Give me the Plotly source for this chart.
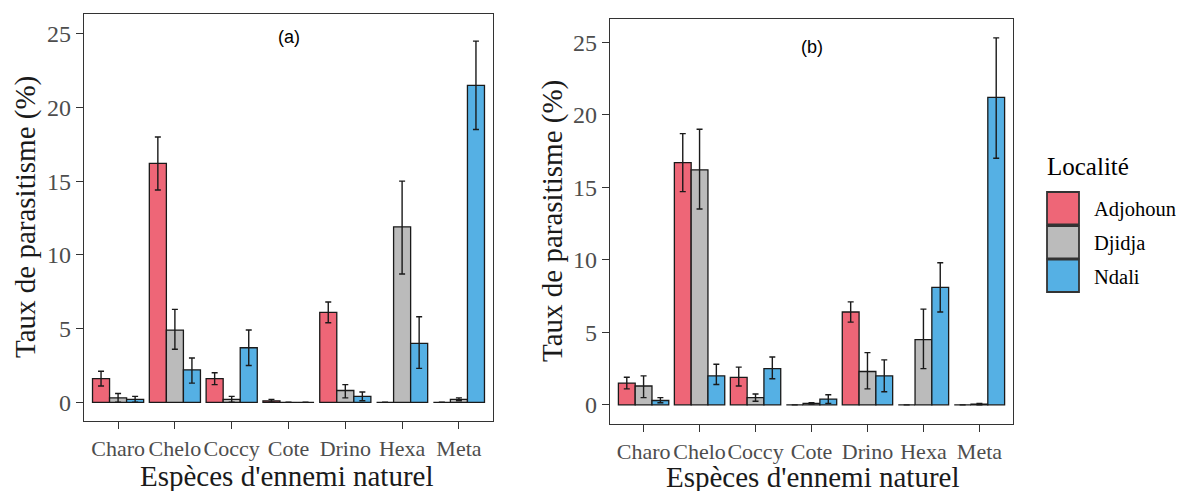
import plotly.graph_objects as go

# The page body has an 8px margin, so the figure is drawn 8px in from the top-left.
OFF = 8
W, H = 1184 - OFF, 491 - OFF

species = ["Charo", "Chelo", "Coccy", "Cote", "Drino", "Hexa", "Meta"]
localites = ["Adjohoun", "Djidja", "Ndali"]
colors = ["#EE6677", "#BBBBBB", "#55B0E4"]

# Panel (a): mean, upper and lower error bounds
a_adjohoun = [1.6, 16.2, 1.6, 0.1, 6.1, 0.0, 0.0]
a_adjohoun_hi = [2.1, 18.0, 2.0, 0.2, 6.8, 0.0, 0.0]
a_adjohoun_lo = [1.1, 14.4, 1.2, 0.0, 5.4, 0.0, 0.0]
a_djidja = [0.3, 4.9, 0.2, 0.0, 0.8, 11.9, 0.2]
a_djidja_hi = [0.6, 6.3, 0.4, 0.0, 1.2, 15.0, 0.3]
a_djidja_lo = [0.0, 3.6, 0.0, 0.0, 0.3, 8.7, 0.1]
a_ndali = [0.2, 2.2, 3.7, 0.0, 0.4, 4.0, 21.5]
a_ndali_hi = [0.4, 3.0, 4.9, 0.0, 0.7, 5.8, 24.5]
a_ndali_lo = [0.0, 1.3, 2.5, 0.0, 0.1, 2.3, 18.5]

# Panel (b)
b_adjohoun = [1.5, 16.7, 1.9, 0.0, 6.4, 0.0, 0.0]
b_adjohoun_hi = [1.9, 18.7, 2.6, 0.0, 7.1, 0.0, 0.0]
b_adjohoun_lo = [1.1, 14.7, 1.3, 0.0, 5.7, 0.0, 0.0]
b_djidja = [1.3, 16.2, 0.5, 0.1, 2.3, 4.5, 0.05]
b_djidja_hi = [2.0, 19.0, 0.75, 0.15, 3.6, 6.6, 0.1]
b_djidja_lo = [0.5, 13.5, 0.25, 0.05, 1.1, 2.5, 0.0]
b_ndali = [0.3, 2.0, 2.5, 0.4, 2.0, 8.1, 21.2]
b_ndali_hi = [0.5, 2.8, 3.3, 0.7, 3.1, 9.8, 25.3]
b_ndali_lo = [0.15, 1.4, 1.8, 0.1, 0.9, 6.4, 17.0]

panel_a = [(a_adjohoun, a_adjohoun_hi, a_adjohoun_lo),
           (a_djidja, a_djidja_hi, a_djidja_lo),
           (a_ndali, a_ndali_hi, a_ndali_lo)]
panel_b = [(b_adjohoun, b_adjohoun_hi, b_adjohoun_lo),
           (b_djidja, b_djidja_hi, b_djidja_lo),
           (b_ndali, b_ndali_hi, b_ndali_lo)]

SERIF = "Liberation Serif, Times New Roman, serif"
SANS = "Liberation Sans, Arial, sans-serif"

fig = go.Figure()
for panel, xa, ya in [(panel_a, "x", "y"), (panel_b, "x2", "y2")]:
    for (vals, hi, lo), name, col in zip(panel, localites, colors):
        fig.add_trace(go.Bar(
            x=species, y=vals, name=name, xaxis=xa, yaxis=ya,
            marker=dict(color=col, line=dict(color="#1a1a1a", width=1.3)),
            error_y=dict(type="data", symmetric=False,
                         array=[h - v for h, v in zip(hi, vals)],
                         arrayminus=[v - l for v, l in zip(vals, lo)],
                         color="#1a1a1a", thickness=1.4, width=3),
            showlegend=False,
        ))

def px_x(p):
    return (p - OFF) / W

def px_y(p):
    return 1 - (p - OFF) / H

axis_common = dict(showline=True, mirror=True, linecolor="#333333", linewidth=1.3,
                   ticks="outside", ticklen=7, tickcolor="#333333", tickwidth=1.2,
                   showgrid=False, zeroline=False)
xfont = dict(tickfont=dict(family=SERIF, size=22, color="#4D4D4D"))
yfont = dict(tickfont=dict(family=SERIF, size=24, color="#4D4D4D"))

fig.update_layout(
    width=W, height=H,
    margin=dict(l=0, r=0, t=0, b=0),
    paper_bgcolor="white", plot_bgcolor="white",
    barmode="group", bargap=0.1, bargroupgap=0,
    xaxis=dict(domain=[px_x(84), px_x(493)], range=[-0.6, 6.6], anchor="y",
               tickangle=0, **axis_common, **xfont),
    yaxis=dict(domain=[px_y(421), px_y(14)], range=[-1.27, 26.34], anchor="x",
               tickvals=[0, 5, 10, 15, 20, 25], **axis_common, **yfont),
    xaxis2=dict(domain=[px_x(610), px_x(1013)], range=[-0.6, 6.6], anchor="y2",
                tickangle=0, **axis_common, **xfont),
    yaxis2=dict(domain=[px_y(424), px_y(19)], range=[-1.32, 26.6], anchor="x2",
                tickvals=[0, 5, 10, 15, 20, 25], **axis_common, **yfont),
    showlegend=False,
)

ann = []
# Panel labels
ann.append(dict(x="Cote", y=24.8, xref="x", yref="y", text="(a)", showarrow=False,
                xanchor="center", yanchor="middle",
                font=dict(family=SANS, size=18, color="black")))
ann.append(dict(x="Cote", y=24.7, xref="x2", yref="y2", text="(b)", showarrow=False,
                xanchor="center", yanchor="middle",
                font=dict(family=SANS, size=18, color="black")))
# Axis titles
xtitle = "Espèces d'ennemi naturel"
ytitle = "Taux de parasitisme (%)"
for cx, cy in [(287, 476), (813, 477)]:
    ann.append(dict(x=px_x(cx), y=px_y(cy), xref="paper", yref="paper", text=xtitle,
                    xanchor="center", yanchor="middle", showarrow=False,
                    font=dict(family=SERIF, size=29, color="#1a1a1a")))
for cx, cy in [(25, 217), (552, 221)]:
    ann.append(dict(x=px_x(cx), y=px_y(cy), xref="paper", yref="paper", text=ytitle,
                    xanchor="center", yanchor="middle",
                    textangle=-90, showarrow=False,
                    font=dict(family=SERIF, size=29, color="#1a1a1a")))

# Legend (manual)
ann.append(dict(x=px_x(1045), y=px_y(166), xref="paper", yref="paper", text="Localité",
                xanchor="left", yanchor="middle", showarrow=False,
                font=dict(family=SERIF, size=25, color="black")))
shapes = []
key_tops = [192, 226, 259.5]
for (top, name, col) in zip(key_tops, localites, colors):
    shapes.append(dict(type="rect", xref="paper", yref="paper",
                       x0=px_x(1047), x1=px_x(1079), y0=px_y(top + 32.5), y1=px_y(top),
                       fillcolor=col, line=dict(color="#333333", width=1.8)))
    ann.append(dict(x=px_x(1092), y=px_y(top + 17), xref="paper", yref="paper", text=name,
                    xanchor="left", yanchor="middle", showarrow=False,
                    font=dict(family=SERIF, size=20.5, color="black")))

fig.update_layout(annotations=ann, shapes=shapes)
fig.write_html("out.html")
